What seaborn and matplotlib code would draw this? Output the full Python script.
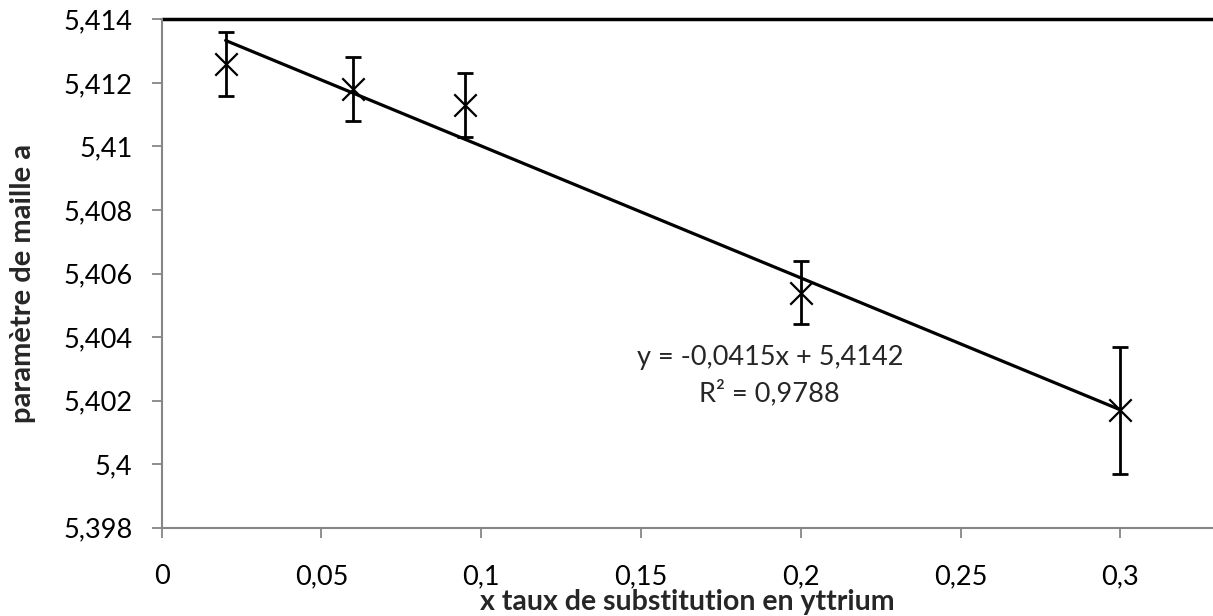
import numpy as np
import pandas as pd
import matplotlib
matplotlib.use("Agg")
import matplotlib.pyplot as plt
import seaborn as sns

# ===================== données =====================
taux_y = [0.02, 0.06, 0.095, 0.2, 0.3]
param_a = [5.4126, 5.4118, 5.4113, 5.4054, 5.4017]
erreur_a = [0.001, 0.001, 0.001, 0.001, 0.002]

x_ticks = [0, 0.05, 0.1, 0.15, 0.2, 0.25, 0.3]
x_tick_labels = ["0", "0,05", "0,1", "0,15", "0,2", "0,25", "0,3"]
y_ticks = [5.398, 5.400, 5.402, 5.404, 5.406, 5.408, 5.410, 5.412, 5.414]
y_tick_labels = ["5,398", "5,4", "5,402", "5,404", "5,406", "5,408", "5,41", "5,412", "5,414"]

equation = "y = -0,0415x + 5,4142"
r2_text = "R² = 0,9788"

df = pd.DataFrame({"x": taux_y, "a": param_a, "err": erreur_a})

# ===================== style =====================
sns.set_theme(style="white")
plt.rcParams["font.family"] = ["Lato", "DejaVu Sans"]
gris = "#868686"
taille = 19.5

fig = plt.figure(figsize=(12.13, 6.16), dpi=100)
ax = fig.add_axes([0.1333, 0.1433, 0.8667, 0.8254])

# droite de tendance (régression linéaire)
sns.regplot(data=df, x="x", y="a", ci=None, scatter=False, truncate=True,
            line_kws=dict(color="black", lw=2.3), ax=ax)

# barres d'erreur
ax.errorbar(df["x"], df["a"], yerr=df["err"], fmt="none", ecolor="black",
            elinewidth=2, capsize=6, capthick=2, zorder=3)

# points
sns.scatterplot(data=df, x="x", y="a", marker="x", s=260, color="black",
                linewidth=1.6, ax=ax, zorder=4)

# ligne du haut
ax.axhline(5.414, color="black", lw=2.5, clip_on=False, zorder=2)

ax.set_xlim(0, 0.329)
ax.set_ylim(5.398, 5.414)
ax.set_xticks(x_ticks)
ax.set_xticklabels(x_tick_labels)
ax.set_yticks(y_ticks)
ax.set_yticklabels(y_tick_labels)

for s in ["top", "right"]:
    ax.spines[s].set_visible(False)
for s in ["left", "bottom"]:
    ax.spines[s].set_color(gris)
    ax.spines[s].set_linewidth(1.5)

ax.tick_params(axis="both", colors=gris, labelcolor="black", labelsize=taille,
               direction="out", width=1.3)
ax.tick_params(axis="y", length=7, pad=14)
ax.tick_params(axis="x", length=7, pad=19)
ax.tick_params(left=True, bottom=True)

ax.set_xlabel("x taux de substitution en yttrium", fontsize=20.5, fontweight="bold")
ax.set_ylabel("paramètre de maille a", fontsize=21, fontweight="bold")
ax.xaxis.set_label_coords(0.5, -0.147)
ax.xaxis.label.set_va("center")
ax.yaxis.set_label_coords(-0.132, 0.48)
ax.yaxis.label.set_va("center")

ax.text(0.1903, 5.40336, equation, ha="center", va="center", fontsize=taille)
ax.text(0.1903, 5.40223, r2_text, ha="center", va="center", fontsize=taille)

plt.savefig("out.png", dpi=100)
